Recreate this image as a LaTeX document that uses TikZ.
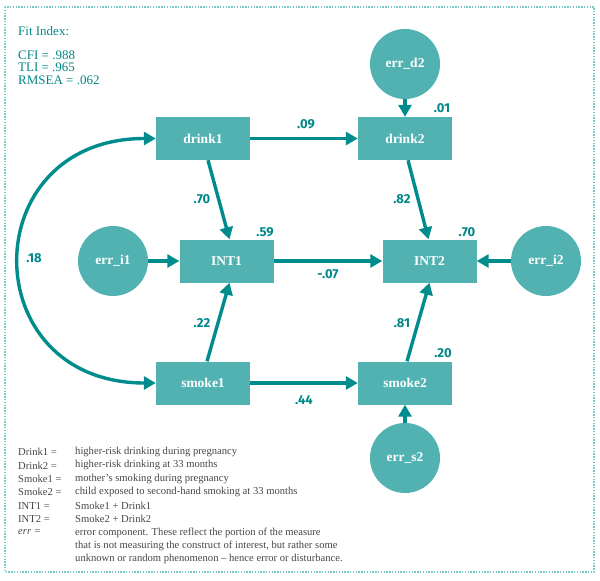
\documentclass[tikz,border=0pt]{standalone}
\usepackage{fontspec}
\setmainfont{Liberation Serif}
\newfontfamily\numfont{Fira Sans}
\usetikzlibrary{arrows.meta}
\definecolor{boxc}{RGB}{82,178,178}
\definecolor{arrc}{RGB}{0,140,140}
\definecolor{txtc}{RGB}{0,135,135}
\definecolor{legc}{RGB}{70,70,70}
\definecolor{dotc}{RGB}{120,200,200}
\tikzset{
  varbox/.style={rectangle, fill=boxc, minimum width=94pt, minimum height=43pt, inner sep=0pt, text=white, font=\fontsize{13.5}{14}\selectfont\bfseries},
  errc/.style={circle, fill=boxc, minimum size=70pt, inner sep=0pt, text=white, font=\fontsize{13.5}{14}\selectfont\bfseries},
  tip/.style={Triangle[length=12pt,width=13pt]},
  path/.style={draw=arrc, line width=3.4pt, -{Triangle[length=12pt,width=13pt]}},
  coef/.style={text=txtc, font=\numfont\fontsize{13}{14}\selectfont\bfseries, inner sep=0pt},
  fit/.style={text=txtc, font=\fontsize{13}{14}\selectfont, anchor=west, inner sep=0pt},
  leg/.style={text=legc, font=\fontsize{10.6}{11}\selectfont, anchor=west, inner sep=0pt},
}
\begin{document}
\begin{tikzpicture}[x=1pt,y=-1pt]
\useasboundingbox (0,0) rectangle (600,581);
\draw[dotc, line width=1.4pt, dash pattern=on 1.4pt off 1.4pt] (5,7) rectangle (594,572);

% nodes
\node[varbox] (drink1) at (203,138.5) {drink1};
\node[varbox] (drink2) at (405,138.5) {drink2};
\node[varbox] (INT1) at (226.5,261) {INT1};
\node[varbox] (INT2) at (429.5,261) {INT2};
\node[varbox] (smoke1) at (203,383) {smoke1};
\node[varbox] (smoke2) at (405,383) {smoke2};
\node[errc] (errd2) at (405,64) {err\_d2};
\node[errc] (erri1) at (113,261) {err\_i1};
\node[errc] (erri2) at (546,261) {err\_i2};
\node[errc] (errs2) at (405,458) {err\_s2};

% paths
\draw[path] (drink1) -- (drink2);
\draw[path] (INT1) -- (INT2);
\draw[path] (smoke1) -- (smoke2);
\draw[path] (erri1) -- (INT1);
\draw[path] (erri2) -- (INT2);
\draw[path] (errd2) -- (drink2);
\draw[path] (errs2) -- (smoke2);
\draw[path] ([xshift=5pt]drink1.south) -- ([xshift=3pt]INT1.north);
\draw[path] ([xshift=3pt]drink2.south) -- ([xshift=-1pt]INT2.north);
\draw[path] ([xshift=4pt]smoke1.north) -- ([xshift=3pt]INT1.south);
\draw[path] ([xshift=2pt]smoke2.north) -- ([xshift=0pt]INT2.south);
\draw[draw=arrc, line width=3.4pt, {Triangle[length=12pt,width=13pt]}-{Triangle[length=12pt,width=13pt]}]
  (smoke1.west) .. controls (-26,383) and (-26,138.5) .. (drink1.west);

% coefficients
\node[coef] (c09) at (306,124) {.09};
\node[coef] (c70a) at (202,199) {.70};
\node[coef] (c82) at (402,199) {.82};
\node[coef] (c59) at (265,232) {.59};
\node[coef] (c07) at (328,274) {-.07};
\node[coef] (c01) at (442,108) {.01};
\node[coef] (c70b) at (467,232) {.70};
\node[coef] (c22) at (202,323) {.22};
\node[coef] (c81) at (402,323) {.81};
\node[coef] (c20) at (443,353) {.20};
\node[coef] (c44) at (304,400) {.44};
\node[coef] (c18) at (34,258) {.18};

% fit index
\node[fit] (fit0) at (18,31) {Fit Index:};
\node[fit] (fit1) at (18,55) {CFI = .988};
\node[fit] (fit2) at (18,67.5) {TLI = .965};
\node[fit] (fit3) at (18,80) {RMSEA = .062};

% legend
\node[leg] (l1a) at (18,452) {Drink1 =};
\node[leg] (l1b) at (75,452) {higher-risk drinking during pregnancy};
\node[leg] (l2a) at (18,465.4) {Drink2 =};
\node[leg] (l2b) at (75,465.4) {higher-risk drinking at 33 months};
\node[leg] (l3a) at (18,478.8) {Smoke1 =};
\node[leg] (l3b) at (75,478.8) {mother’s smoking during pregnancy};
\node[leg] (l4a) at (18,492.2) {Smoke2 =};
\node[leg] (l4b) at (75,492.2) {child exposed to second-hand smoking at 33 months};
\node[leg] (l5a) at (18,505.6) {INT1 =};
\node[leg] (l5b) at (75,505.6) {Smoke1 + Drink1};
\node[leg] (l6a) at (18,519) {INT2 =};
\node[leg] (l6b) at (75,519) {Smoke2 + Drink2};
\node[leg] (l7a) at (18,532.4) {\itshape err =};
\node[leg] (l7b) at (75,532.4) {error component. These reflect the portion of the measure};
\node[leg] (l8b) at (75,545.8) {that is not measuring the construct of interest, but rather some};
\node[leg] (l9b) at (75,559.2) {unknown or random phenomenon – hence error or disturbance.};
\end{tikzpicture}
\end{document}
